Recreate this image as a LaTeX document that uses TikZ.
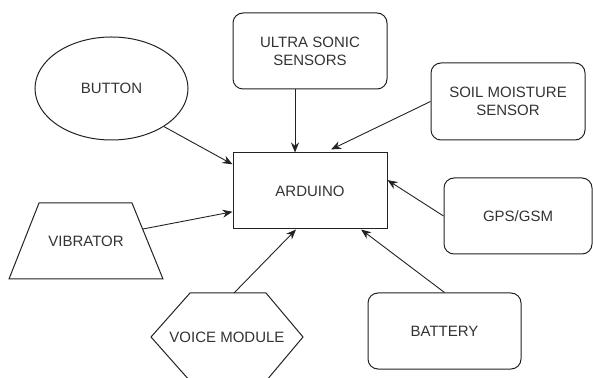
\documentclass[tikz,border=0pt]{standalone}
\usepackage{fontspec}
\setmainfont{Liberation Sans}
\usetikzlibrary{arrows.meta,shapes.geometric}
\definecolor{ink}{HTML}{222222}
\definecolor{label}{HTML}{333333}

\begin{document}
\begin{tikzpicture}[x=1pt,y=1pt,
    font=\fontsize{15}{18}\selectfont,
    block/.style={draw=ink,line width=1pt,rounded corners=10pt,minimum width=154pt,
      minimum height=76pt,align=center,text=label},
    txt/.style={text=label,align=center},
    link/.style={draw=ink,line width=.9pt,-{Stealth[length=10pt,width=8pt]}}]
  \useasboundingbox (0,0) rectangle (593,377);
  % boxes
  \node[block] (ultra) at (310,326) {ULTRA SONIC\\SENSORS};
  \node[block,minimum height=77pt] (soil) at (508,275.5) {SOIL MOISTURE\\SENSOR};
  \node[block,sharp corners] (arduino) at (310,186) {ARDUINO};
  \node[block,minimum width=148pt] (gps) at (518,161) {GPS/GSM};
  \node[block,minimum width=153pt] (battery) at (444.5,46) {BATTERY};
  \node[draw=ink,line width=1pt,ellipse,minimum width=153pt,minimum height=103pt,
    inner sep=0pt,text=label] (button) at (111.5,288.5) {BUTTON};
  % vibrator and voice module
  \draw[ink,line width=1pt] (9,98) -- (39,174) -- (132,174) -- (163,98) -- cycle;
  \node[txt] (vibrator) at (86,136) {VIBRATOR};
  \coordinate (vibout) at (143,148);
  \draw[ink,line width=1pt] (151,40) -- (190,84) -- (266,84) -- (303,40)
    -- (266,-4) -- (190,-4) -- cycle;
  \node[txt] (voice) at (227,40) {VOICE MODULE};
  \coordinate (voiceout) at (234,84);
  % links
  \draw[link] (button.-36) -- (arduino.161);
  \draw[link] ([xshift=-15pt]ultra.south) -- ([xshift=-15pt]arduino.north);
  \draw[link,shorten >=7pt] (soil.west) -- (arduino.69);
  \draw[link] (gps.west) -- (arduino.8);
  \draw[link] (battery.north) -- (arduino.-37);
  \draw[link] (voiceout) -- (arduino.-110);
  \draw[link] (vibout) -- (arduino.-165);
\end{tikzpicture}
\end{document}
